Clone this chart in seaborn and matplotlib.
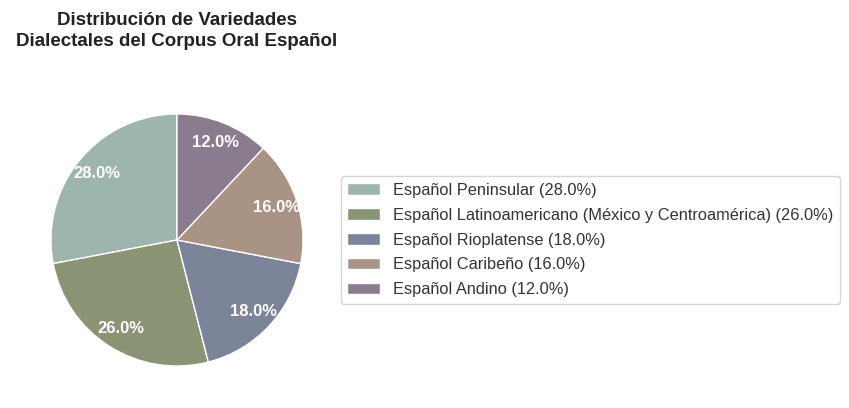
import matplotlib
matplotlib.use("Agg")
import matplotlib.pyplot as plt
import seaborn as sns

# datos
variedades = [
    "Español Peninsular",
    "Español Latinoamericano (México y Centroamérica)",
    "Español Rioplatense",
    "Español Caribeño",
    "Español Andino",
]
porcentajes = [28.0, 26.0, 18.0, 16.0, 12.0]
colores = ["#9db5ac", "#8a9374", "#7b8498", "#a89384", "#8b7b8e"]

sns.set_theme(style="white")
plt.rcParams["font.family"] = ["Liberation Sans", "DejaVu Sans"]

fig = plt.figure(figsize=(8.49, 4.08), dpi=100)
ax = fig.add_axes([51 / 849, 42 / 408, 252 / 849, 252 / 408])

wedges, texts, autotexts = ax.pie(
    porcentajes,
    colors=colores,
    startangle=90,
    autopct="%1.1f%%",
    pctdistance=0.83,
    wedgeprops={"edgecolor": "white", "linewidth": 1},
    textprops={"color": "white", "fontsize": 12, "fontweight": "bold"},
)
ax.set_aspect("equal")
ax.set_xlim(-1, 1)
ax.set_ylim(-1, 1)

ax.set_title("Distribución de Variedades\nDialectales del Corpus Oral Español",
             fontsize=13.5, fontweight="bold", color="#222222", pad=49,
             linespacing=1.3)

etiquetas = [f"{v} ({p:.1f}%)" for v, p in zip(variedades, porcentajes)]
ax.legend(wedges, etiquetas, loc="center left", bbox_to_anchor=(1.15, 0.5),
          borderaxespad=0, fontsize=11.75, labelspacing=0.6, frameon=True,
          edgecolor="#cccccc", fancybox=True, labelcolor="#333333")

fig.savefig("out.png", dpi=100, facecolor="white")
